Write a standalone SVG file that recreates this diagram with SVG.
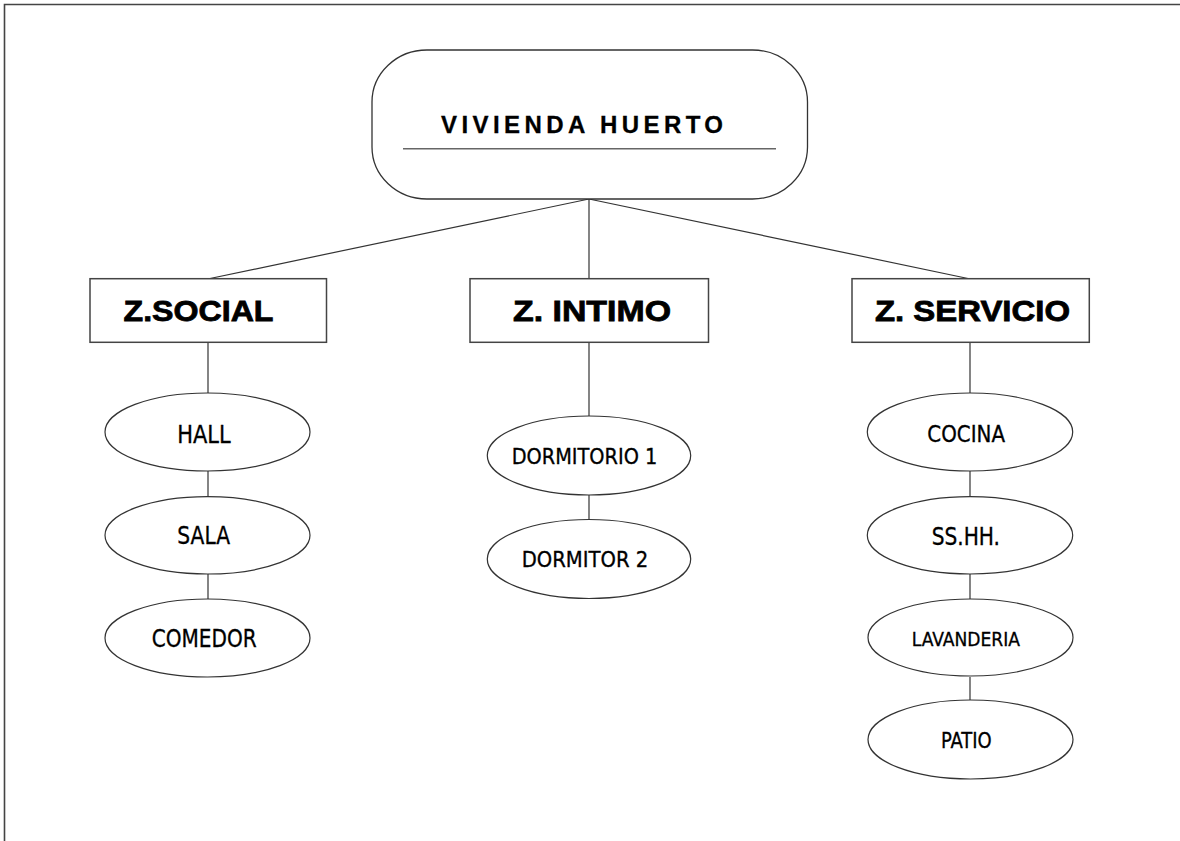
<svg xmlns="http://www.w3.org/2000/svg" width="1180" height="841" viewBox="0 0 1180 841">
<style>
.ln{stroke:#333;stroke-width:1.2;fill:none}
.box{fill:#fff;stroke:#444;stroke-width:1.5}
.ell{fill:#fff;stroke:#333;stroke-width:1.2}
.zt{font-family:"Liberation Sans",Arial,sans-serif;font-weight:bold;font-size:30px;fill:#000;stroke:#000;stroke-width:0.8}
.et{font-family:"DejaVu Sans Condensed","DejaVu Sans",sans-serif;fill:#000;stroke:#000;stroke-width:0.3}
</style>
<rect width="1180" height="841" fill="#fff"/>
<path d="M4.5,841 V4.5 H1180" fill="none" stroke="#444" stroke-width="1.6"/>
<g id="connectors">
<line class="ln" x1="589" y1="199" x2="210" y2="278.5"/>
<line class="ln" x1="589" y1="199" x2="589" y2="278.5"/>
<line class="ln" x1="589" y1="199" x2="968" y2="278.5"/>
<line class="ln" x1="208" y1="342.5" x2="208" y2="393"/>
<line class="ln" x1="208" y1="471" x2="208" y2="497"/>
<line class="ln" x1="208" y1="574" x2="208" y2="599"/>
<line class="ln" x1="589" y1="342.5" x2="589" y2="416"/>
<line class="ln" x1="589" y1="495" x2="589" y2="519.5"/>
<line class="ln" x1="970" y1="342.5" x2="970" y2="393"/>
<line class="ln" x1="970" y1="471" x2="970" y2="497"/>
<line class="ln" x1="970" y1="574" x2="970" y2="599"/>
<line class="ln" x1="970" y1="677" x2="970" y2="701"/>
</g>
<g id="root">
<rect x="372" y="50" width="435.5" height="149" rx="55" ry="52" fill="#fff" stroke="#333" stroke-width="1.3"/>
<text x="441" y="132.7" font-family="'Liberation Sans',Arial,sans-serif" font-weight="bold" font-size="24" textLength="282" lengthAdjust="spacing" fill="#000" stroke="#000" stroke-width="0.3">VIVIENDA HUERTO</text>
<line x1="403" y1="148.7" x2="776" y2="148.7" stroke="#666" stroke-width="1.5"/>
</g>
<g id="zsocial">
<rect class="box" x="90" y="278.7" width="236.5" height="63.6"/>
<text class="zt" x="123.5" y="321" textLength="150" lengthAdjust="spacingAndGlyphs">Z.SOCIAL</text>
</g>
<g id="zintimo">
<rect class="box" x="470" y="278.7" width="238.5" height="63.6"/>
<text class="zt" x="513" y="321" textLength="158" lengthAdjust="spacingAndGlyphs">Z. INTIMO</text>
</g>
<g id="zservicio">
<rect class="box" x="852" y="278.7" width="237.3" height="63.6"/>
<text class="zt" x="875" y="321" textLength="195" lengthAdjust="spacingAndGlyphs">Z. SERVICIO</text>
</g>
<g id="hall">
<ellipse class="ell" cx="207.5" cy="432" rx="102.5" ry="39"/>
<text class="et" x="177.3" y="442.7" font-size="24" textLength="53.4" lengthAdjust="spacingAndGlyphs">HALL</text>
</g>
<g id="sala">
<ellipse class="ell" cx="207.5" cy="535.3" rx="102.5" ry="38.7"/>
<text class="et" x="177.3" y="544.3" font-size="24" textLength="52.7" lengthAdjust="spacingAndGlyphs">SALA</text>
</g>
<g id="comedor">
<ellipse class="ell" cx="207.5" cy="638" rx="102.5" ry="39"/>
<text class="et" x="151.7" y="647.3" font-size="24" textLength="105" lengthAdjust="spacingAndGlyphs">COMEDOR</text>
</g>
<g id="dormitorio1">
<ellipse class="ell" cx="589" cy="455.5" rx="101.7" ry="39.5"/>
<text class="et" x="511.7" y="464" font-size="21.5" textLength="145.6" lengthAdjust="spacingAndGlyphs">DORMITORIO 1</text>
</g>
<g id="dormitor2">
<ellipse class="ell" cx="589" cy="559" rx="101.7" ry="39.5"/>
<text class="et" x="521.7" y="567.3" font-size="21.5" textLength="126.6" lengthAdjust="spacingAndGlyphs">DORMITOR 2</text>
</g>
<g id="cocina">
<ellipse class="ell" cx="970" cy="432" rx="102.7" ry="39"/>
<text class="et" x="927.3" y="441.7" font-size="23" textLength="77.7" lengthAdjust="spacingAndGlyphs">COCINA</text>
</g>
<g id="sshh">
<ellipse class="ell" cx="970" cy="535.3" rx="102.7" ry="38.7"/>
<text class="et" x="931.7" y="545" font-size="24" textLength="68.3" lengthAdjust="spacingAndGlyphs">SS.HH.</text>
</g>
<g id="lavanderia">
<ellipse class="ell" cx="970.5" cy="637.5" rx="102.5" ry="38.5"/>
<text class="et" x="911.7" y="645.7" font-size="19" textLength="108.3" lengthAdjust="spacingAndGlyphs">LAVANDERIA</text>
</g>
<g id="patio">
<ellipse class="ell" cx="970.5" cy="739.5" rx="102.5" ry="39.5"/>
<text class="et" x="941" y="748.3" font-size="20.5" textLength="50.7" lengthAdjust="spacingAndGlyphs">PATIO</text>
</g>
</svg>
